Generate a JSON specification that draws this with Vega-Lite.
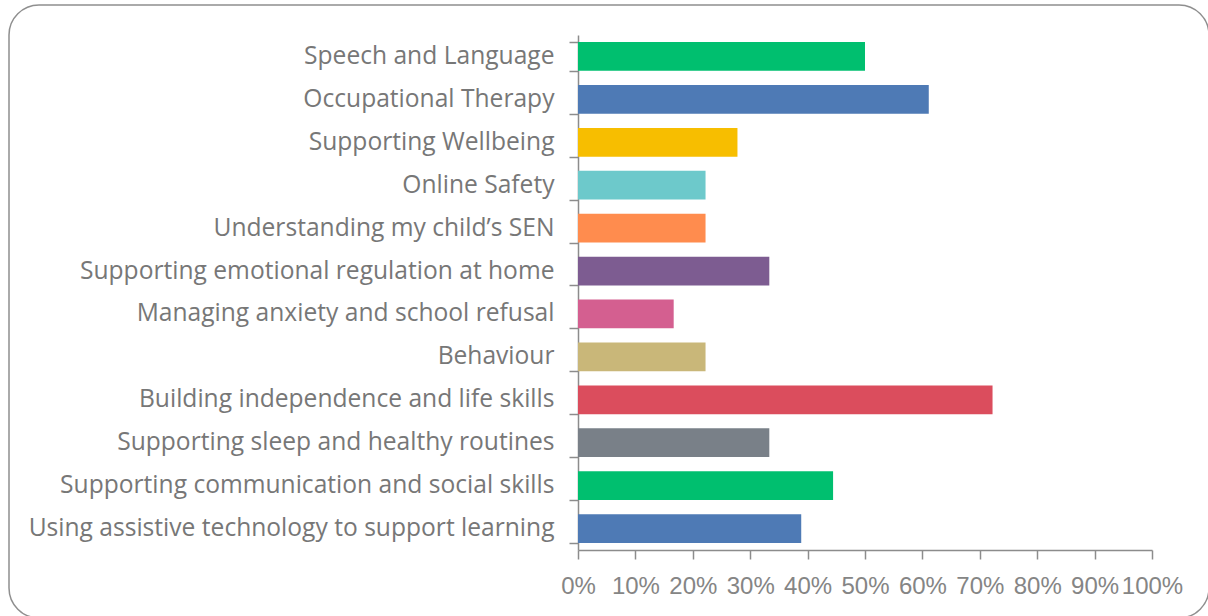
{
  "$schema": "https://vega.github.io/schema/vega-lite/v6.json",
  "autosize": {"type": "none"},
  "padding": {"left": 9, "top": 5, "right": 0, "bottom": 0},
  "width": 1200,
  "height": 613,
  "background": "white",
  "data": {"values": [
    {"topic": "Speech and Language", "share": 0.5},
    {"topic": "Occupational Therapy", "share": 0.6111},
    {"topic": "Supporting Wellbeing", "share": 0.2778},
    {"topic": "Online Safety", "share": 0.2222},
    {"topic": "Understanding my child’s SEN", "share": 0.2222},
    {"topic": "Supporting emotional regulation at home", "share": 0.3333},
    {"topic": "Managing anxiety and school refusal", "share": 0.1667},
    {"topic": "Behaviour", "share": 0.2222},
    {"topic": "Building independence and life skills", "share": 0.7222},
    {"topic": "Supporting sleep and healthy routines", "share": 0.3333},
    {"topic": "Supporting communication and social skills", "share": 0.4444},
    {"topic": "Using assistive technology to support learning", "share": 0.3889}
  ]},
  "mark": {"type": "bar"},
  "encoding": {
    "y": {
      "field": "topic", "type": "nominal", "sort": null,
      "scale": {"range": [30, 545], "paddingInner": 0.33, "paddingOuter": 0.165},
      "axis": {
        "title": null, "offset": -569, "domainColor": "#8c8c8c", "domainWidth": 1.5,
        "tickColor": "#8c8c8c", "tickWidth": 1.5, "tickSize": 9, "tickBand": "extent",
        "labelPadding": 15, "labelFont": "Open Sans", "labelFontSize": 24.6, "labelColor": "#777777",
        "labelLimit": 600
      }
    },
    "x": {
      "field": "share", "type": "quantitative",
      "scale": {"domain": [0, 1], "range": [569, 1143], "nice": false},
      "axis": {
        "title": null, "offset": -68, "format": "%", "values": [0,0.1,0.2,0.3,0.4,0.5,0.6,0.7,0.8,0.9,1],
        "grid": false, "domainColor": "#8c8c8c", "domainWidth": 1.5,
        "tickColor": "#8c8c8c", "tickWidth": 1.5, "tickSize": 9,
        "labelPadding": 15, "labelFont": "Liberation Sans", "labelFontSize": 24, "labelColor": "#858585",
        "labelOverlap": false, "labelFlush": false
      }
    },
    "color": {
      "field": "topic", "type": "nominal", "sort": null, "legend": null,
      "scale": {
        "domain": ["Speech and Language", "Occupational Therapy", "Supporting Wellbeing", "Online Safety", "Understanding my child’s SEN", "Supporting emotional regulation at home", "Managing anxiety and school refusal", "Behaviour", "Building independence and life skills", "Supporting sleep and healthy routines", "Supporting communication and social skills", "Using assistive technology to support learning"],
        "range": ["#00BF6F", "#4E7AB5", "#F7BE00", "#6DC9CB", "#FF8C4E", "#7D5C91", "#D45F90", "#C9B779", "#DB4D5D", "#798088", "#00BF6F", "#4E7AB5"]
      }
    }
  },
  "config": {
    "view": {"stroke": "#8f8f8f", "strokeWidth": 1.5, "cornerRadius": 30}
  }
}
